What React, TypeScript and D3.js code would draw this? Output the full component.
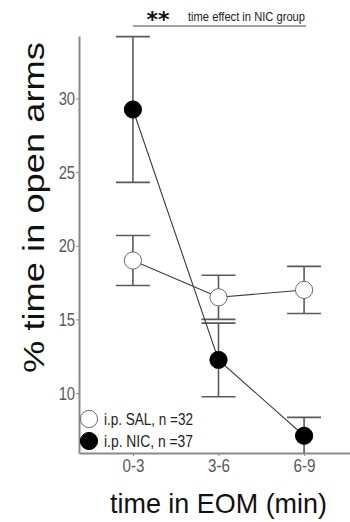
import React, { useRef, useEffect } from "react";
import { select, scaleLinear, scalePoint, axisLeft, axisBottom, line } from "d3";

// data
const timeBins = ["0-3", "3-6", "6-9"];
const salMean = [19.0, 16.5, 17.0];
const salSem = [1.7, 1.5, 1.6];
const nicMean = [29.25, 12.25, 7.1];
const nicSem = [4.95, 2.5, 1.25];
const yTicks = [10, 15, 20, 25, 30];
const legendLabels = ["i.p. SAL, n =32", "i.p. NIC, n =37"];

const W = 350;
const H = 522;
const FONT = "'Liberation Sans', Arial, sans-serif";

function App() {
  const svgRef = useRef<SVGSVGElement>(null);

  useEffect(() => {
    const svg = select(svgRef.current);
    svg.selectAll("*").remove();

    const left = 79, right = 358, top = 36, bottom = 453;

    const xScale = scalePoint<string>().domain(timeBins).range([left, right]).padding(0.63);
    const yScale = scaleLinear().domain([5.93, 34.24]).range([bottom, top]);

    const axisColor = "#8a8a8a";
    const tickText = "#595959";

    // y axis
    const gy = svg.append("g").attr("transform", `translate(${left},0)`)
      .call(axisLeft(yScale).tickValues(yTicks).tickSize(3).tickSizeOuter(0).tickPadding(2));
    gy.select(".domain").attr("stroke", axisColor).attr("stroke-width", 2);
    gy.selectAll(".tick line").attr("stroke", axisColor);
    gy.selectAll(".tick text")
      .attr("fill", tickText)
      .attr("transform", "scale(0.78,1)")
      .style("font-family", FONT).style("font-size", "19px");

    // x axis
    const gx = svg.append("g").attr("transform", `translate(0,${bottom})`)
      .call(axisBottom(xScale).tickSize(3).tickSizeOuter(0).tickPadding(3));
    gx.select(".domain").attr("stroke", axisColor).attr("stroke-width", 2);
    gx.selectAll(".tick line").attr("stroke", axisColor);
    gx.selectAll(".tick text")
      .attr("fill", tickText)
      .attr("transform", "scale(0.8,1)")
      .style("font-family", FONT).style("font-size", "19px");

    // axis titles (condensed to match the narrow face in the figure)
    svg.append("text")
      .attr("transform", `translate(44,207.5) rotate(-90)`)
      .attr("text-anchor", "middle")
      .attr("textLength", 331)
      .attr("lengthAdjust", "spacingAndGlyphs")
      .style("font-family", FONT).style("font-size", "30px")
      .attr("fill", "#111")
      .text("% time in open arms");

    svg.append("text")
      .attr("x", 218.5).attr("y", 513)
      .attr("text-anchor", "middle")
      .attr("textLength", 217)
      .attr("lengthAdjust", "spacingAndGlyphs")
      .style("font-family", FONT).style("font-size", "28px")
      .attr("fill", "#111")
      .text("time in EOM (min)");

    // clip so error bars stop at the x axis
    svg.append("clipPath").attr("id", "plotclip")
      .append("rect").attr("x", left).attr("y", 0).attr("width", W - left).attr("height", bottom);

    const plot = svg.append("g").attr("clip-path", "url(#plotclip)");

    const groups = [
      { mean: salMean, sem: salSem, fill: "#fff" },
      { mean: nicMean, sem: nicSem, fill: "#000" },
    ];

    const capHalf = 17;
    groups.forEach(g => {
      timeBins.forEach((t, i) => {
        const x = xScale(t)!;
        const hi = yScale(g.mean[i] + g.sem[i]);
        const lo = yScale(g.mean[i] - g.sem[i]);
        const eb = plot.append("g").attr("stroke", "#5a5a5a").attr("stroke-width", 1.6);
        eb.append("line").attr("x1", x).attr("x2", x).attr("y1", hi).attr("y2", lo);
        eb.append("line").attr("x1", x - capHalf).attr("x2", x + capHalf).attr("y1", hi).attr("y2", hi);
        eb.append("line").attr("x1", x - capHalf).attr("x2", x + capHalf).attr("y1", lo).attr("y2", lo);
      });
    });

    const myLine = line<number>()
      .x((d, i) => xScale(timeBins[i])!)
      .y(d => yScale(d));

    groups.forEach(g => {
      plot.append("path")
        .attr("d", myLine(g.mean))
        .attr("fill", "none")
        .attr("stroke", "#3a3a3a")
        .attr("stroke-width", 1.1);
    });

    groups.forEach(g => {
      plot.selectAll(null)
        .data(g.mean)
        .join("circle")
        .attr("cx", (d, i) => xScale(timeBins[i])!)
        .attr("cy", d => yScale(d))
        .attr("r", 8.6)
        .attr("fill", g.fill)
        .attr("stroke", g.fill === "#000" ? "#000" : "#6a6a6a")
        .attr("stroke-width", 1);
    });

    // legend
    legendLabels.forEach((lab, i) => {
      const ly = 419 + i * 22;
      svg.append("circle")
        .attr("cx", 89).attr("cy", ly).attr("r", 8.6)
        .attr("fill", groups[i].fill)
        .attr("stroke", groups[i].fill === "#000" ? "#000" : "#6a6a6a");
      svg.append("text")
        .attr("x", 104).attr("y", ly + 5.5)
        .attr("textLength", 89)
        .attr("lengthAdjust", "spacingAndGlyphs")
        .style("font-family", FONT).style("font-size", "16px")
        .attr("fill", "#222")
        .text(lab);
    });

    // significance annotation
    svg.append("line")
      .attr("x1", xScale(timeBins[0])!).attr("x2", xScale(timeBins[2])! + 2)
      .attr("y1", 26).attr("y2", 26)
      .attr("stroke", "#444").attr("stroke-width", 1.2);
    svg.append("text")
      .attr("x", 158).attr("y", 27)
      .attr("text-anchor", "middle")
      .style("font-family", "'DejaVu Sans', sans-serif").style("font-size", "22px").style("font-weight", "bold")
      .attr("fill", "#111")
      .text("**");
    svg.append("text")
      .attr("x", 188).attr("y", 21)
      .attr("textLength", 117)
      .attr("lengthAdjust", "spacingAndGlyphs")
      .style("font-family", FONT).style("font-size", "13px")
      .attr("fill", "#222")
      .text("time effect in NIC group");
  }, []);

  return (
    <div style={{ position: "absolute", left: 0, top: 0 }}>
      <svg ref={svgRef} width={W} height={H} style={{ display: "block", background: "#fff" }} />
    </div>
  );
}

export default App;
